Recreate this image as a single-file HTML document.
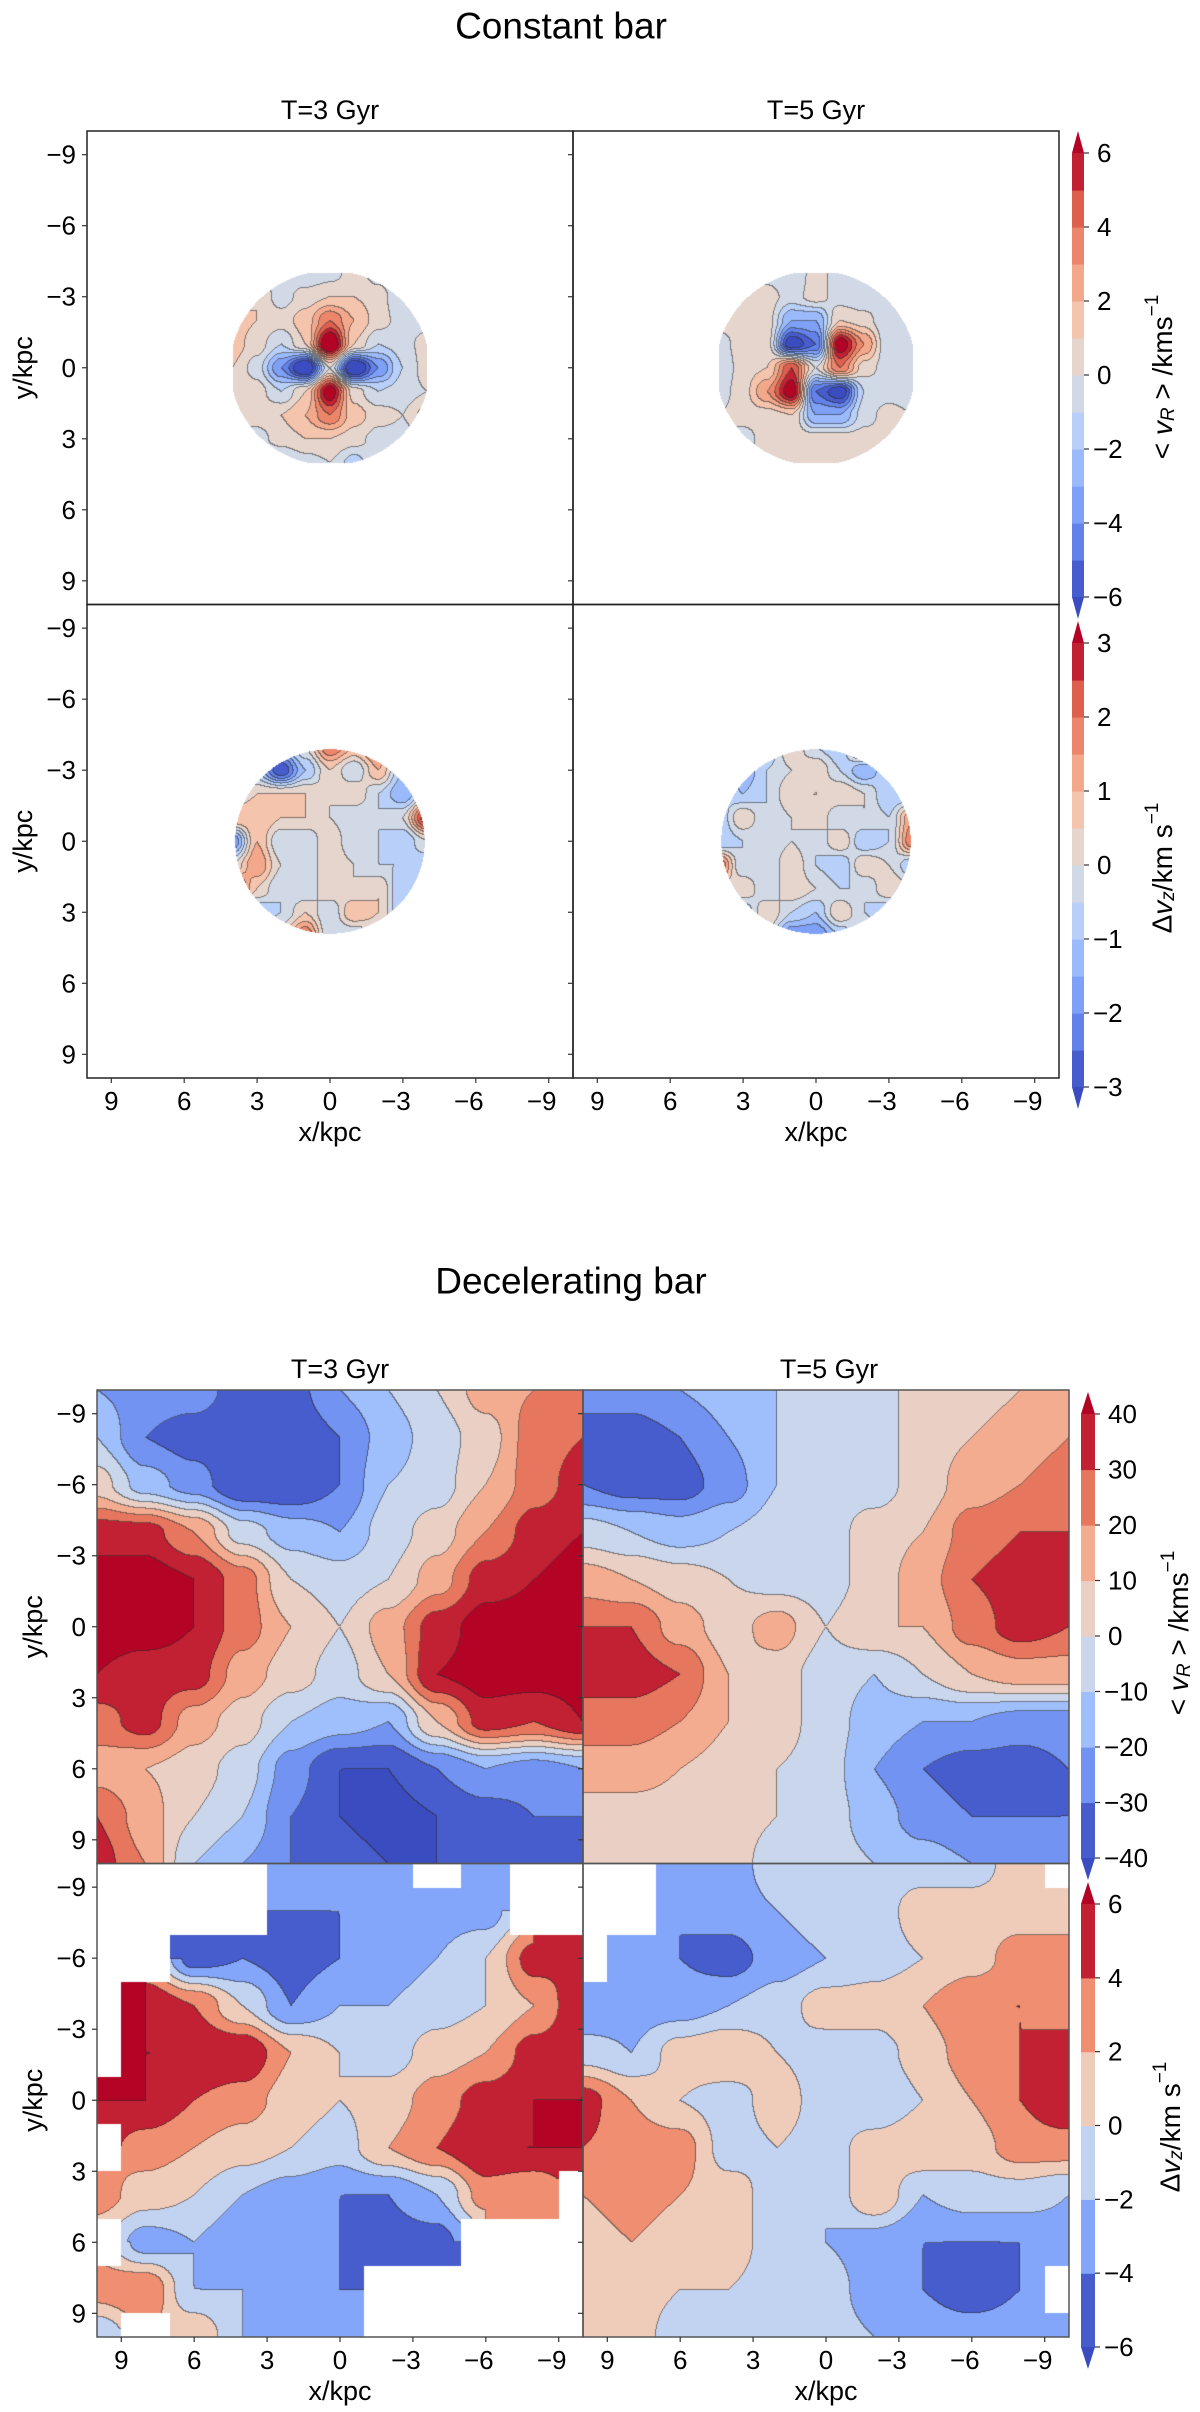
<!DOCTYPE html>
<html><head><meta charset="utf-8">
<style>
html,body{margin:0;padding:0;background:#fff;}
#root{position:relative;width:1200px;height:2412px;overflow:hidden;font-family:"Liberation Sans","DejaVu Sans",sans-serif;}
canvas{position:absolute;}
svg{position:absolute;left:0;top:0;}
</style></head>
<body>
<div id="root">
<canvas id="c1" style="left:87px;top:131px" width="486" height="474"></canvas>
<canvas id="c2" style="left:573px;top:131px" width="486" height="474"></canvas>
<canvas id="c3" style="left:87px;top:605px" width="486" height="473"></canvas>
<canvas id="c4" style="left:573px;top:605px" width="486" height="473"></canvas>
<canvas id="c5" style="left:97px;top:1390px" width="486" height="474"></canvas>
<canvas id="c6" style="left:583px;top:1390px" width="486" height="474"></canvas>
<canvas id="c7" style="left:97px;top:1864px" width="486" height="473"></canvas>
<canvas id="c8" style="left:583px;top:1864px" width="486" height="473"></canvas>
<svg id="ov" width="1200" height="2412"></svg>
</div>
<script>
// ---- data: grids (rows y top->bottom, cols displayed left->right) ----
const constVrT3 = [
 [0,0,-0.5,-1,-0.5,0.5,-0.5,-1,0],
 [0,1,-0.5,0.5,1,1,0.5,-1,-0.5],
 [1.5,1,0.5,1.5,4,2,0.5,-0.5,-0.5],
 [1.5,0.5,-1,1,8,1,-1,-0.5,0.5],
 [1,-0.5,-4,-8,0,-8,-4,-1,0.5],
 [1,0.5,-1,1,7,0.5,-1,-0.5,0],
 [0.5,0.5,1,2,4,1.5,0.5,0,1.5],
 [-0.5,-0.5,0.5,1,1,0.5,-0.5,-0.5,0],
 [0,-1,-1.5,-0.5,0,-1.5,0,0,0]];
const constVrT5 = [
 [0,0,-0.5,-1,0.5,-0.5,-1,0,0],
 [0,0.5,0.5,-0.5,0.5,-0.5,-1,-1,0],
 [0.5,0.5,0.5,-3,-3,1,0.5,-1,-1],
 [-0.5,0.5,0.5,-7,-5,7,3,-1,-1],
 [-1,0.5,1,5,0,4,0.5,-0.5,-1],
 [-0.5,0.5,3,7,-5,-7,-1,-0.5,-1],
 [0,0.5,0.5,1,-3,-3,-0.5,0.5,0],
 [0,-0.5,0.5,0.5,0.5,0.5,0.5,0.5,0],
 [0,0,1,1,1,0.5,1,0,0]];
const constDvzT3 = [
 [0,0,-1,0,2,1,2,-1,0],
 [0,-1,-3,-1,0.5,-0.5,1,-1,0],
 [0,0.5,0.5,0.5,0,0.5,-0.5,-1.5,0],
 [1,1,0.5,0.5,0,-0.5,-0.5,0,3],
 [-2,1,-0.5,-0.5,0.5,-0.5,-0.5,-1,0],
 [0,1.5,0,-0.5,0.5,0,-0.5,-0.5,-1],
 [3,0.5,-0.5,-0.5,0.5,0,0.5,-1,0],
 [0,-1,-0.5,0.5,-0.5,1,0.5,-1,0],
 [0,0,0.5,2,-0.5,-0.5,0,0,0]];
const constDvzT5 = [
 [0,0,-1,0.5,-0.5,-1,2,0,0],
 [0,-1.5,-0.5,0,0.5,-0.5,-1.5,-0.5,0],
 [-0.5,-1,-0.5,0.5,0.5,0.5,0,-1,-1],
 [-1,0.5,-0.5,0,0.5,-0.5,0,-0.5,1.5],
 [-1,-0.5,-0.5,0,-0.5,0.5,-1,-0.5,2],
 [2,-0.5,-0.5,0.5,-0.5,-1,0.5,0,-1],
 [0,0.5,-0.5,0.5,0,-0.5,-0.5,0.5,0],
 [0,-1,0.5,-0.5,-1,0.5,-0.5,-1,0],
 [0,0,0,-2,-2,-1,0,0,0]];
const decelVrT3 = [
 [-20,-25,-25,-35,-35,-20,-10,0,15,20,20],
 [-10,-30,-35,-40,-40,-30,-15,-5,5,25,30],
 [5,-15,-25,-40,-40,-30,-10,-5,10,25,35],
 [35,35,20,-5,-15,-20,-5,5,20,35,40],
 [45,45,40,25,0,-5,0,15,35,40,45],
 [45,45,40,25,10,0,15,35,45,45,45],
 [40,35,35,15,5,-5,10,40,45,45,45],
 [25,35,15,5,-10,-15,-20,10,35,30,40],
 [15,10,5,-5,-25,-40,-40,-30,-20,-25,-20],
 [30,15,0,-10,-30,-40,-45,-40,-35,-30,-30],
 [35,20,-10,-20,-30,-35,-40,-40,-35,-35,-35]];
const decelVrT5 = [
 [-25,-25,-20,-15,-10,-5,-5,5,5,10,15],
 [-35,-35,-30,-20,-10,-5,-5,5,10,15,20],
 [-30,-35,-35,-25,-10,-5,-5,5,15,20,25],
 [-5,-10,-15,-10,-5,-5,5,10,25,30,30],
 [15,10,5,0,-5,-5,5,15,30,35,30],
 [30,30,15,5,15,0,10,10,25,35,30],
 [35,35,30,10,5,-5,-10,0,10,15,15],
 [25,25,20,10,5,-5,-15,-20,-20,-25,-25],
 [15,15,10,5,0,-5,-20,-30,-35,-35,-30],
 [5,5,5,5,0,-5,-15,-25,-30,-30,-30],
 [5,0,5,5,-5,-5,-10,-15,-20,-20,-20]];
const decelDvzT3 = [
 [null,null,null,null,-2,-4,-2,null,-2,null,null],
 [null,null,null,null,-4,-4,-2,-3,-3,null,null],
 [null,null,-5,-4,-5,-4,-3,-2,0,5,4],
 [null,6,4,0,-4,-2,-2,-1,0,2,6],
 [null,6,6,6,2,0,-1,1,2,5,6],
 [6,6,4,3,1,0,1,3,5,6,6],
 [null,3,2,1,0,-1,2,4,6,6,6],
 [3,1,0,-2,-3,-4,-4,-2,3,2,null],
 [null,-3,-2,-4,-3,-4,-5,-5,null,null,null],
 [3,4,-2,-2,-3,-4,null,null,null,null,null],
 [-2,null,2,-2,-3,-3,null,null,null,null,null]];
const decelDvzT5 = [
 [null,null,-3,-3,-1,-1,-1,-1,-1,1,null],
 [null,null,-4,-3,-2,-1,-1,1,1,1,2],
 [null,-4,-4,-5,-3,-2,-1,0,1,3,2],
 [-4,-3,-3,-2,-1,1,1,2,4,4,3],
 [-1,-2,1,2,0,-1,-1,1,3,4,5],
 [5,2,0,-1,1,-1,-2,0,2,4,6],
 [4,3,3,-1,0,-1,1,2,1,3,3],
 [2,3,2,1,-1,-2,2,-2,-1,-1,-2],
 [1,2,1,1,-1,-2,-3,-4,-4,-4,-3],
 [1,1,0,0,-1,-1,-3,-4,-5,-4,null],
 [0,1,-1,-2,-1,-1,-2,-3,-3,-3,-3]];
const axisTicks = [-9,-6,-3,0,3,6,9];
const cbConstVrTicks = [-6,-4,-2,0,2,4,6];
const cbConstDvzTicks = [-3,-2,-1,0,1,2,3];
const cbDecelVrTicks = [-40,-30,-20,-10,0,10,20,30,40];
const cbDecelDvzTicks = [-6,-4,-2,0,2,4,6];

// ---- colormap ----
const CW=[[59,76,192],[98,130,234],[141,176,254],[184,208,249],[221,221,221],[245,196,173],[244,154,123],[222,96,77],[180,4,38]];
function cw(t){t=Math.max(0,Math.min(1,t));const f=t*8,i=Math.min(7,Math.floor(f)),r=f-i;
 return CW[i].map((c,k)=>Math.round(c+(CW[i+1][k]-c)*r));}
function levelColor(k,n){ if(k<0) return cw(0); if(k>=n) return cw(1); return cw(n===1?0.5:k/(n-1)*0.92+0.04);}

function drawMap(id,grid,ext,vmin,vmax,n,maskR){
 const cv=document.getElementById(id),ctx=cv.getContext('2d'),W=cv.width,H=cv.height;
 const N=grid.length,img=ctx.createImageData(W,H),idx=new Int16Array(W*H);
 const step=(vmax-vmin)/n;
 for(let py=0;py<H;py++){for(let px=0;px<W;px++){
  const dx=(px+0.5)/W*20-10, dy=(py+0.5)/H*20-10;
  let k=-99;
  const u=(dx+ext)/(2*ext)*(N-1), v=(dy+ext)/(2*ext)*(N-1);
  if(u>=0&&u<=N-1&&v>=0&&v<=N-1&&(!maskR||Math.hypot(dx,dy)<=maskR)){
   const nu=Math.round(u),nv=Math.round(v);
   if(grid[nv][nu]!==null){
    const i0=Math.min(N-2,Math.floor(u)),j0=Math.min(N-2,Math.floor(v));
    let fu=u-i0,fv=v-j0;
    fu=fu*fu*(3-2*fu); fv=fv*fv*(3-2*fv);
    const cs=[grid[j0][i0],grid[j0][i0+1],grid[j0+1][i0],grid[j0+1][i0+1]];
    const ok=cs.filter(c=>c!==null);const av=ok.reduce((a,b)=>a+b,0)/ok.length;
    const c=cs.map(x=>x===null?av:x);
    let val=c[0]*(1-fu)*(1-fv)+c[1]*fu*(1-fv)+c[2]*(1-fu)*fv+c[3]*fu*fv;
    val=Math.round(val*1e5)/1e5;
    k=Math.floor((val-vmin)/step+1e-7); if(k<-1)k=-1; if(k>n)k=n;
   }
  }
  idx[py*W+px]=k;
 }}
 for(let p=0;p<W*H;p++){
  const k=idx[p];let col=[255,255,255];
  if(k!==-99){col=levelColor(k,n);
   const px=p%W;
   const r=(px<W-1)?idx[p+1]:k, d=(p+W<W*H)?idx[p+W]:k;
   if((r!==k&&r!==-99)||(d!==k&&d!==-99)){col=col.map(c=>Math.round(c*0.45+40*0.55));}
  }
  img.data[p*4]=col[0];img.data[p*4+1]=col[1];img.data[p*4+2]=col[2];img.data[p*4+3]=255;
 }
 ctx.putImageData(img,0,0);
}
drawMap('c1',constVrT3,4,-6,6,12,4.1);
drawMap('c2',constVrT5,4,-6,6,12,4.1);
drawMap('c3',constDvzT3,4,-3,3,12,3.9);
drawMap('c4',constDvzT5,4,-3,3,12,3.9);
drawMap('c5',decelVrT3,10,-40,40,8,0);
drawMap('c6',decelVrT5,10,-40,40,8,0);
drawMap('c7',decelDvzT3,10,-6,6,6,0);
drawMap('c8',decelDvzT5,10,-6,6,6,0);

// ---- overlay ----
const NS='http://www.w3.org/2000/svg',ov=document.getElementById('ov');
function el(tag,attrs,txt){const e=document.createElementNS(NS,tag);for(const a in attrs)e.setAttribute(a,attrs[a]);if(txt!==undefined)e.textContent=txt;ov.appendChild(e);return e;}
function fmt(v){return v<0?'\u2212'+(-v):String(v);}
function text(x,y,s,size,anchor,name,rot){
 const t=el('text',{x:x,y:y,'font-size':size,'text-anchor':anchor||'middle','dominant-baseline':'central',fill:'#000'},s);
 if(rot)t.setAttribute('transform','rotate(-90 '+x+' '+y+')');
 
 
 return t;}

function figure(L,T,W,H,frameCol){
 for(let r=0;r<2;r++)for(let c=0;c<2;c++){
  const f=el('rect',{x:L+c*W,y:T+r*H,width:W,height:H,fill:'none',stroke:frameCol,'stroke-width':1.5});
  
  
 }
 for(let r=0;r<2;r++){
  axisTicks.forEach(v=>{const y=T+r*H+(v+10)/20*H;
   for(let c=0;c<2;c++){const x=L+c*W;
    const tk=el('line',{x1:x-5,y1:y,x2:x,y2:y,stroke:'#333','stroke-width':1.2});
    
    }
   text(L-11,y,fmt(v),26,'end','y-tick-label');
  });
  text(L-64,T+r*H+H/2,'y/kpc',27,'middle','y-axis-title',true);
 }
 for(let c=0;c<2;c++){
  axisTicks.forEach(v=>{const x=L+c*W+(10-v)/20*W;const y=T+2*H;
   const tk=el('line',{x1:x,y1:y,x2:x,y2:y+5,stroke:'#333','stroke-width':1.2});
   
   
   text(x+(v<0?-7:0),y+23,fmt(v),26,'middle','x-tick-label');
  });
  text(L+c*W+W/2,T+2*H+54,'x/kpc',27,'middle','x-axis-title');
 }
}
function colorbar(x,w,yTop,yBot,vmin,vmax,n,ticks,name){
 const h=yBot-yTop, s=h/n;
 for(let k=0;k<n;k++){const c=levelColor(k,n);
  const r=el('rect',{x:x,y:yBot-(k+1)*s,width:w,height:s+0.6,fill:'rgb('+c+')'});
  
  }
 const top=el('polygon',{points:x+','+yTop+' '+(x+w)+','+yTop+' '+(x+w/2)+','+(yTop-22),fill:'rgb('+levelColor(n,n)+')'});
 
 
 const bot=el('polygon',{points:x+','+yBot+' '+(x+w)+','+yBot+' '+(x+w/2)+','+(yBot+22),fill:'rgb('+levelColor(-1,n)+')'});
 
 
 ticks.forEach(v=>{const y=yBot-(v-vmin)/(vmax-vmin)*h;
  const tk=el('line',{x1:x+w,y1:y,x2:x+w+5,y2:y,stroke:'#333','stroke-width':1.2});
  
  
  text(x+w+(v<0?9:13),y,fmt(v),26,'start',name+'-tick-label');
 });
}
function cbLabel(x,y,kind,name){
 const t=el('text',{x:x,y:y,'font-size':28,'text-anchor':'middle','dominant-baseline':'central',transform:'rotate(-90 '+x+' '+y+')'});
 
 
 if(kind==='vr'){t.innerHTML='&lt; <tspan font-style="italic">v</tspan><tspan font-size="19" dy="6" font-style="italic">R</tspan><tspan dy="-6"> &gt; /kms</tspan><tspan font-size="19" dy="-10">\u22121</tspan>';}
 else{t.innerHTML='\u0394<tspan font-style="italic">v</tspan><tspan font-size="19" dy="6" font-style="italic">z</tspan><tspan dy="-6">/km s</tspan><tspan font-size="19" dy="-10">\u22121</tspan>';}
}

text(561,26,'Constant bar',37,'middle','constant-bar-title');
text(330,110,'T=3 Gyr',27,'middle','column-title-t3');
text(816,110,'T=5 Gyr',27,'middle','column-title-t5');
figure(87,131,486,473.5,'#222');
colorbar(1072,12,153,597,-6,6,12,cbConstVrTicks,'colorbar-const-vr');
colorbar(1072,12,643,1087,-3,3,12,cbConstDvzTicks,'colorbar-const-dvz');
cbLabel(1162,377,'vr','colorbar-label-const-vr');
cbLabel(1162,868,'dvz','colorbar-label-const-dvz');

text(571,1281,'Decelerating bar',37,'middle','decelerating-bar-title');
text(340,1369,'T=3 Gyr',27,'middle','column-title-t3-decel');
text(829,1369,'T=5 Gyr',27,'middle','column-title-t5-decel');
figure(97,1390,486,473.5,'#555');
colorbar(1081,14,1414,1858,-40,40,8,cbDecelVrTicks,'colorbar-decel-vr');
colorbar(1081,14,1904,2347,-6,6,6,cbDecelDvzTicks,'colorbar-decel-dvz');
cbLabel(1178,1633,'vr','colorbar-label-decel-vr');
cbLabel(1170,2127,'dvz','colorbar-label-decel-dvz');
</script>
</body></html>
